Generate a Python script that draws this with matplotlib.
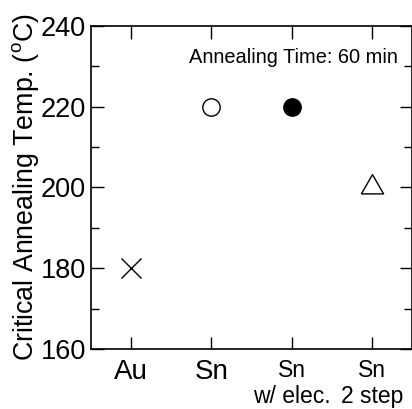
import matplotlib
matplotlib.use("Agg")
import matplotlib.pyplot as plt
from matplotlib.ticker import MultipleLocator

plt.rcParams['font.family'] = ['Liberation Sans', 'DejaVu Sans']
plt.rcParams['mathtext.fontset'] = 'custom'
plt.rcParams['mathtext.rm'] = 'Liberation Sans'

# data
labels = ['Au', 'Sn', 'Sn\nw/ elec.', 'Sn\n2 step']
label_sizes = [20, 20, 16.5, 16.5]
temps = [180, 220, 220, 200]

# equilateral triangle, centred on its centroid
tri = [(-1, -0.577), (1, -0.577), (0, 1.155), (-1, -0.577)]

fig = plt.figure(figsize=(4.12, 4.09), dpi=100)
ax = fig.add_axes([91 / 412, 60 / 409, 321 / 412, 323 / 409])

x = list(range(len(labels)))
ax.plot(x[0], temps[0], linestyle='none', marker='x', ms=14, mew=1.0, color='black')
ax.plot(x[1], temps[1], linestyle='none', marker='o', ms=12.5, mew=1.0, mfc='white', mec='black')
ax.plot(x[2], temps[2], linestyle='none', marker='o', ms=12.5, mew=1.0, mfc='black', mec='black')
ax.plot(x[3], temps[3], linestyle='none', marker=tri, ms=18.5, mew=1.0, mfc='white', mec='black')

ax.set_xlim(-0.5, 3.5)
ax.set_ylim(160, 240)
ax.set_xticks(x)
ax.set_xticklabels(labels)
for t, s in zip(ax.get_xticklabels(), label_sizes):
    t.set_fontsize(s)
ax.yaxis.set_major_locator(MultipleLocator(20))
ax.yaxis.set_minor_locator(MultipleLocator(10))

ax.tick_params(axis='both', which='major', direction='in', length=9, width=1.0,
               top=True, right=True)
ax.tick_params(axis='x', which='major', pad=7)
ax.tick_params(axis='y', which='major', labelsize=19.5, pad=3.5)
ax.tick_params(axis='y', which='minor', direction='in', length=5.5, width=1.0, right=True)
ax.tick_params(axis='x', which='minor', bottom=False, top=False)
for sp in ax.spines.values():
    sp.set_linewidth(1.2)

ax.set_ylabel(r'Critical Annealing Temp. ($^{\mathrm{o}}$C)', fontsize=19.3, labelpad=0)

ax.text(0.956, 0.885, 'Annealing Time: 60 min', transform=ax.transAxes,
        ha='right', va='baseline', fontsize=14.4)

fig.savefig('out.png', dpi=100)
